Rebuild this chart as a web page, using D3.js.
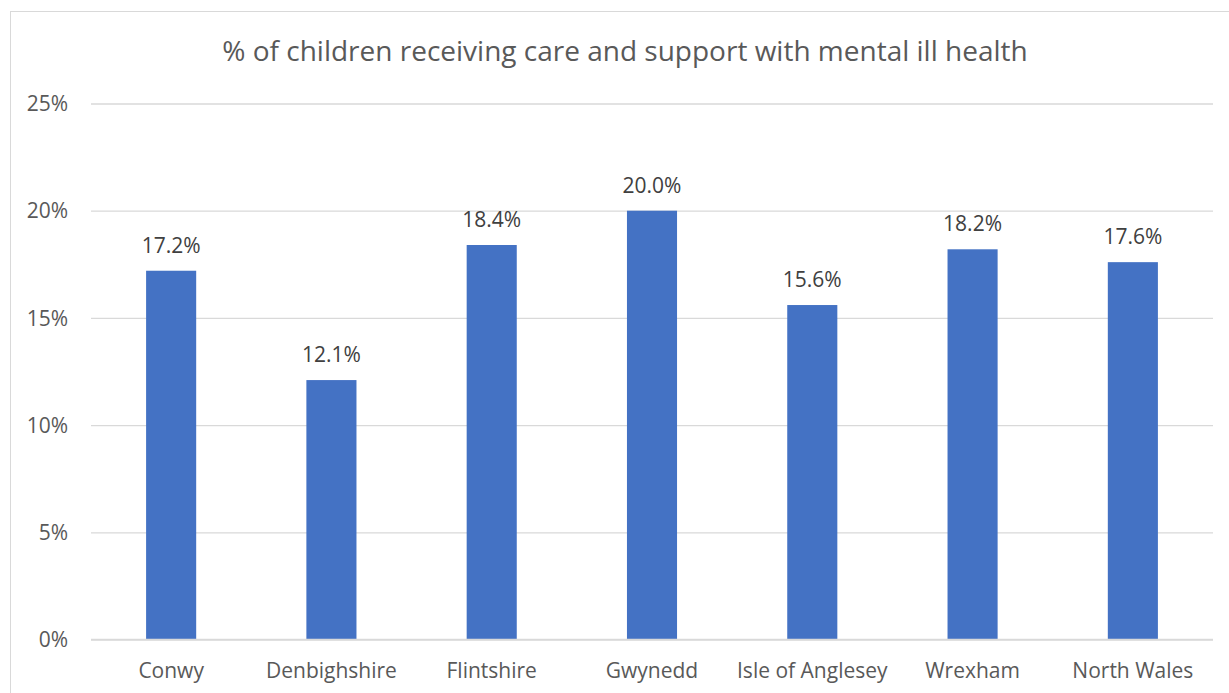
<!DOCTYPE html>
<html><head><meta charset="utf-8">
<script src="https://cdn.jsdelivr.net/npm/d3@7"></script>
<style>body{margin:0;background:#fff}svg{display:block}text{font-family:"Open Sans",sans-serif;fill:#595959}</style>
</head><body>
<script>
const categories = ["Conwy","Denbighshire","Flintshire","Gwynedd","Isle of Anglesey","Wrexham","North Wales"];
const values = [17.2, 12.1, 18.4, 20.0, 15.6, 18.2, 17.6];
const yTicks = [0, 5, 10, 15, 20, 25];
const title = "% of children receiving care and support with mental ill health";

const W = 1229, H = 693;
const svg = d3.select("body").append("svg").attr("width", W).attr("height", H);
svg.append("rect").attr("x",10.5).attr("y",11.5).attr("width",1240).attr("height",700)
  .attr("fill","#fff").attr("stroke","#d9d9d9").attr("stroke-width",1);

const x = d3.scaleBand().domain(categories).range([91, 1213]).paddingInner(0.6875).paddingOuter(0.34375);
const y = d3.scaleLinear().domain([0, 25]).range([639.5, 103.5]);

svg.append("text").attr("x", 625).attr("y", 61).attr("text-anchor","middle")
  .style("font-size","28px").text(title);

const ya = svg.append("g").attr("transform","translate(91,0)")
  .call(d3.axisLeft(y).tickValues(yTicks).tickFormat(d => d + "%").tickSize(-(1213-91)).tickPadding(23));
ya.select(".domain").remove();
ya.selectAll(".tick line").attr("stroke","#d9d9d9").attr("stroke-width",1.3);
ya.selectAll(".tick text").style("font-size","21px").style("fill","#595959").attr("dy","0.34em");

svg.append("g").selectAll("rect").data(values).join("rect")
  .attr("x",(d,i)=>x(categories[i])).attr("width",x.bandwidth())
  .attr("y",d=>y(d)).attr("height",d=>y(0)-y(d)).attr("fill","#4472c4");

svg.append("line").attr("x1",91).attr("x2",1213).attr("y1",y(0)).attr("y2",y(0)).attr("stroke","#d9d9d9").attr("stroke-width",1.3);

svg.append("g").selectAll("text").data(values).join("text")
  .attr("x",(d,i)=>x(categories[i])+x.bandwidth()/2).attr("y",d=>y(d)-18)
  .attr("text-anchor","middle").style("font-size","21px").style("fill","#404040").text(d=>d.toFixed(1)+"%");

const xa = svg.append("g").attr("transform",`translate(0,${y(0)})`)
  .call(d3.axisBottom(x).tickSize(0).tickPadding(24));
xa.select(".domain").remove();
xa.selectAll(".tick text").style("font-size","21px").style("fill","#595959");
</script>
</body></html>
